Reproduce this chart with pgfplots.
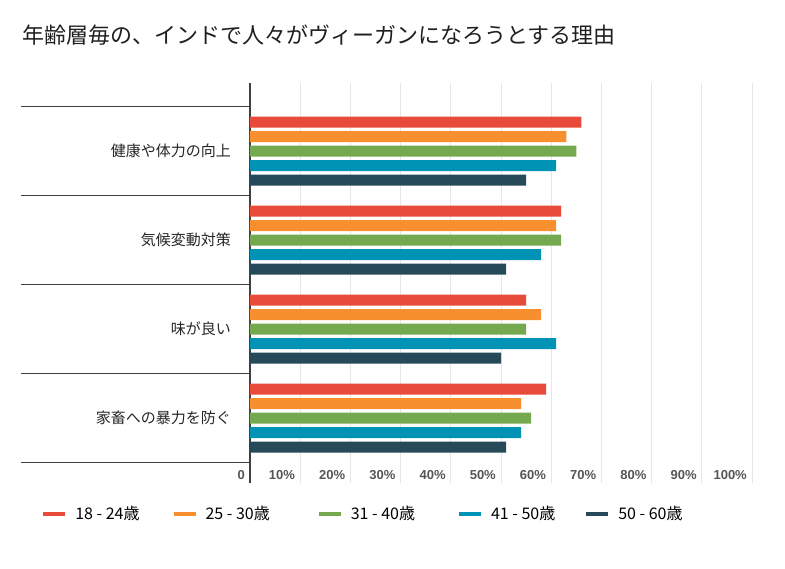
\documentclass[border=0pt]{standalone}
\usepackage{fontspec}
\setmainfont{Noto Sans CJK JP}
\newfontfamily\tickfont{Liberation Sans}
\usepackage{pgfplots}
\pgfplotsset{compat=1.18}
\definecolor{cA}{HTML}{E84B3A}
\definecolor{cB}{HTML}{F78F2E}
\definecolor{cC}{HTML}{74A94F}
\definecolor{cD}{HTML}{0093B5}
\definecolor{cE}{HTML}{264A5A}
\definecolor{axisgray}{HTML}{404040}
\definecolor{gridgray}{HTML}{E6E6E6}
\definecolor{ticktext}{HTML}{555555}
\begin{document}
\begin{tikzpicture}
\useasboundingbox (0,0) rectangle (785bp,569bp);
\node[anchor=west, inner sep=0pt, font=\fontsize{22bp}{26bp}\selectfont, text=black!88] at (22bp,534bp) {年齢層毎の、インドで人々がヴィーガンになろうとする理由};
\begin{axis}[
  at={(250bp,86bp)}, anchor=south west,
  width=502bp, height=400bp, scale only axis,
  xmin=0, xmax=100, ymin=-0.764, ymax=3.73, y dir=reverse,
  xbar, bar width=11bp,
  axis y line*=left, axis x line*=bottom,
  x axis line style={draw=none},
  y axis line style={draw=axisgray, line width=1.6bp},
  tick align=outside,
  major tick length=0pt,
  xtick={0,10,20,30,40,50,60,70,80,90,100},
  xticklabels={0,10\%,20\%,30\%,40\%,50\%,60\%,70\%,80\%,90\%,100\%},
  xticklabel style={font=\tickfont\bfseries\fontsize{13bp}{15bp}\selectfont, text=ticktext, anchor=east, inner sep=0pt, xshift=-5bp, yshift=8bp},
  xmajorgrids, major grid style={draw=gridgray, line width=0.8bp},
  ytick={0,1,2,3},
  yticklabels={健康や体力の向上,気候変動対策,味が良い,家畜への暴力を防ぐ},
  yticklabel style={font=\fontsize{15bp}{18bp}\selectfont, text=black!85, anchor=east, inner sep=0pt, xshift=-19bp},
  extra y ticks={-0.5,0.5,1.5,2.5,3.5},
  extra y tick labels={},
  extra tick style={major tick length=229bp, tick style={draw=axisgray, line width=1.2bp}},
  legend style={at={(-0.418,-0.0775)}, anchor=west, draw=none, fill=none, legend columns=5,
    font=\fontsize{16bp}{19bp}\selectfont, nodes={inner sep=0pt}, column sep=0pt,
    /tikz/every odd column/.append style={column sep=10bp}},
  legend image code/.code={\fill (0bp,-2bp) rectangle (22bp,2bp);},
]
\addplot[fill=cA, draw=none, bar shift=29bp] coordinates {(66,0) (62,1) (55,2) (59,3)};
\addplot[fill=cB, draw=none, bar shift=14.5bp] coordinates {(63,0) (61,1) (58,2) (54,3)};
\addplot[fill=cC, draw=none, bar shift=0bp] coordinates {(65,0) (62,1) (55,2) (56,3)};
\addplot[fill=cD, draw=none, bar shift=-14.5bp] coordinates {(61,0) (58,1) (61,2) (54,3)};
\addplot[fill=cE, draw=none, bar shift=-29bp] coordinates {(55,0) (51,1) (50,2) (51,3)};
\legend{18 - 24歳\hspace*{34bp},25 - 30歳\hspace*{49bp},31 - 40歳\hspace*{44bp},41 - 50歳\hspace*{31bp},50 - 60歳}
\end{axis}
\end{tikzpicture}
\end{document}
